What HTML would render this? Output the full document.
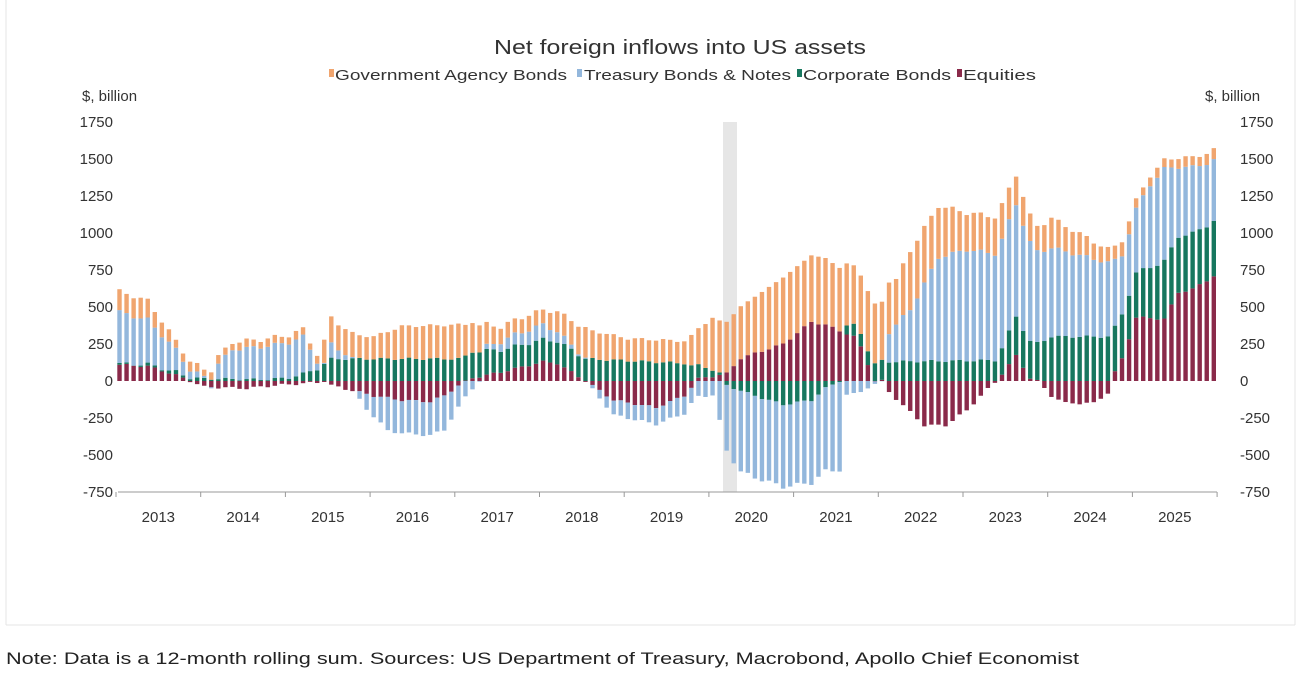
<!DOCTYPE html>
<html><head><meta charset="utf-8"><style>
html,body{margin:0;padding:0;background:#fff;width:1312px;height:676px;overflow:hidden}
svg{display:block;font-family:"Liberation Sans",sans-serif}
</style></head><body>
<svg id="s" width="1312" height="676" viewBox="0 0 1312 676">
<rect x="0" y="0" width="1312" height="676" fill="#fff"/>
<line x1="6" y1="0" x2="6" y2="625" stroke="#e4e4e4"/>
<line x1="1295" y1="0" x2="1295" y2="625" stroke="#e4e4e4"/>
<line x1="6" y1="625" x2="1295" y2="625" stroke="#e4e4e4"/>
<rect x="723" y="122" width="14" height="370" fill="#e6e6e6"/>
<text x="680" y="54" font-size="20" fill="#333" text-anchor="middle" textLength="372" lengthAdjust="spacingAndGlyphs">Net foreign inflows into US assets</text>
<g font-size="15" fill="#333">
<rect x="329" y="69" width="5" height="8" fill="#f0a56f"/>
<text x="335" y="80" textLength="232" lengthAdjust="spacingAndGlyphs">Government Agency Bonds</text>
<rect x="577" y="69" width="5" height="8" fill="#93b7dc"/>
<text x="584" y="80" textLength="207" lengthAdjust="spacingAndGlyphs">Treasury Bonds &amp; Notes</text>
<rect x="797" y="69" width="5" height="8" fill="#17775f"/>
<text x="803" y="80" textLength="148" lengthAdjust="spacingAndGlyphs">Corporate Bonds</text>
<rect x="957" y="69" width="5" height="8" fill="#8a2a4a"/>
<text x="963" y="80" textLength="73" lengthAdjust="spacingAndGlyphs">Equities</text>
<text x="82" y="101">$, billion</text>
<text x="1205" y="101">$, billion</text>
</g>
<g id="yl" font-size="15" fill="#333"></g>
<g id="bars"></g>
<line x1="118" y1="492" x2="1217" y2="492" stroke="#999"/>
<g id="xl" font-size="15" fill="#333"></g>
<text x="6" y="664" font-size="17" fill="#222" textLength="1073" lengthAdjust="spacingAndGlyphs">Note: Data is a 12-month rolling sum. Sources: US Department of Treasury, Macrobond, Apollo Chief Economist</text>
</svg>
<script>
var NS="http://www.w3.org/2000/svg";
function el(t,a,p,txt){var e=document.createElementNS(NS,t);for(var k in a)e.setAttribute(k,a[k]);if(txt!==undefined)e.textContent=txt;p.appendChild(e);return e;}
var Z=381,K=0.148;
var yl=document.getElementById('yl');
for(var v=-750;v<=1750;v+=250){var y=Z-v*K+5;el('text',{x:113,y:y,'text-anchor':'end'},yl,String(v));el('text',{x:1240,y:y},yl,String(v));}
var xl=document.getElementById('xl');
for(var i=0;i<=13;i++){var x=116+84.7*i;el('line',{x1:x,y1:492,x2:x,y2:497,stroke:'#999'},xl);if(i<13)el('text',{x:x+42.35,y:522,'text-anchor':'middle'},xl,String(2013+i));}
function interp(k,m){for(var i=0;i<k.length-1;i++){if(m>=k[i][0]&&m<=k[i+1][0]){var t=(m-k[i][0])/(k[i+1][0]-k[i][0]);return k[i][1]+t*(k[i+1][1]-k[i][1]);}}return m<k[0][0]?k[0][1]:k[k.length-1][1];}
var E=[[0,110],[4,100],[8,40],[10,0],[12,-40],[18,-50],[22,-30],[28,-10],[29,0],[30,-30],[36,-100],[40,-130],[44,-140],[46,-100],[48,-30],[50,20],[54,60],[60,130],[62,120],[66,0],[70,-130],[76,-180],[80,-100],[82,15],[86,50],[88,155],[94,250],[98,400],[100,380],[104,300],[105,230],[107,0],[108,0],[109,-75],[114,-300],[117,-300],[120,-200],[122,-100],[124,-10],[125,50],[127,170],[129,20],[130,0],[132,-100],[134,-150],[138,-150],[140,-80],[141,60],[142,150],[144,430],[148,420],[150,600],[152,620],[155,710]];
var G=[[0,5],[8,20],[20,10],[24,20],[28,80],[30,150],[48,150],[50,180],[54,150],[66,150],[80,120],[84,50],[86,-30],[90,-100],[94,-160],[98,-130],[100,-50],[102,0],[103,60],[106,100],[108,130],[124,140],[127,260],[130,250],[132,300],[140,300],[142,300],[144,300],[148,390],[150,380],[155,370]];
var B=[[0,350],[4,300],[8,150],[10,50],[13,0],[14,100],[16,200],[26,250],[28,50],[29,0],[30,100],[33,0],[35,-100],[38,-220],[46,-230],[48,-150],[50,-50],[52,30],[56,80],[60,100],[66,0],[70,-100],[80,-120],[82,-100],[84,-100],[86,-440],[88,-550],[100,-560],[102,-600],[103,-100],[106,-50],[108,0],[109,200],[112,350],[116,700],[120,750],[124,720],[127,760],[130,620],[132,600],[140,500],[142,400],[144,430],[146,560],[148,620],[150,470],[155,410]];
var O=[[0,140],[4,130],[8,60],[10,60],[12,50],[28,50],[29,150],[30,180],[36,150],[40,220],[48,230],[50,200],[54,100],[60,100],[66,200],[72,150],[80,150],[84,350],[88,350],[94,450],[100,450],[104,400],[108,400],[110,300],[112,400],[116,350],[120,250],[124,250],[127,200],[130,170],[132,200],[140,90],[142,100],[144,60],[148,60],[155,70]];
var ser=[[E,'#8a2a4a'],[G,'#17775f'],[B,'#93b7dc'],[O,'#f0a56f']];
var bars=document.getElementById('bars');
for(var m=0;m<156;m++){var x=116+7.06*m+1.3;var pos=0,neg=0;
 for(var s=0;s<4;s++){var v=interp(ser[s][0],m)+Math.sin(m*1.7+s)*8;
  if(v>=0){el('rect',{x:x,y:Z-(pos+v)*K,width:4.4,height:v*K,fill:ser[s][1]},bars);pos+=v;}
  else{el('rect',{x:x,y:Z-neg*K,width:4.4,height:-v*K,fill:ser[s][1]},bars);neg+=v;}}}
</script>
</body></html>
